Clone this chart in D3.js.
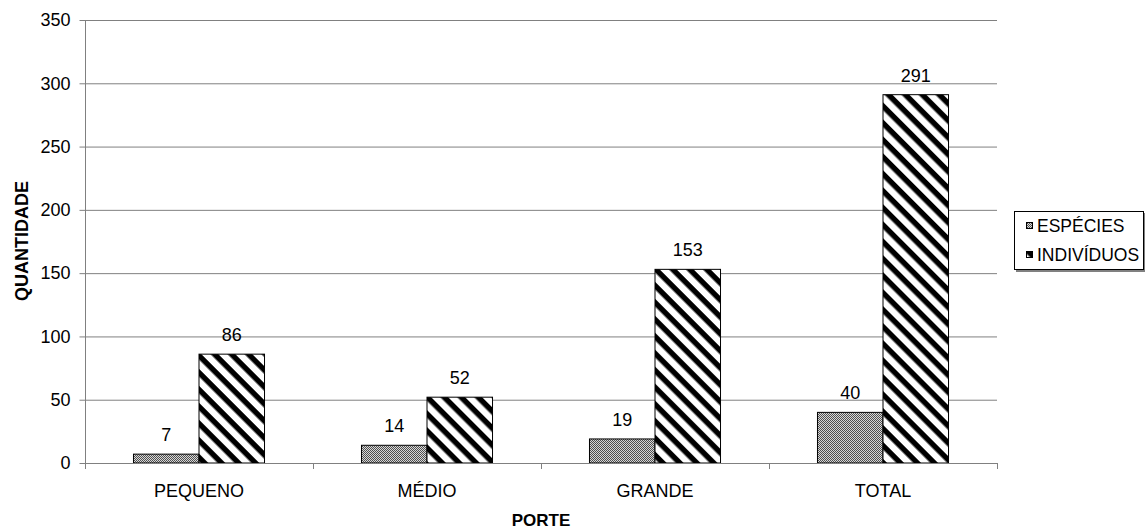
<!DOCTYPE html>
<html><head><meta charset="utf-8">
<script src="https://cdn.jsdelivr.net/npm/d3@7"></script>
<style>body{margin:0;background:#fff}svg{display:block;font-family:"Liberation Sans",Arial,sans-serif}</style>
</head><body><svg id="c" width="1145" height="530"></svg>
<script>
const categories = ["PEQUENO","MÉDIO","GRANDE","TOTAL"];
const seriesNames = ["ESPÉCIES","INDIVÍDUOS"];
const especies = [7,14,19,40];
const individuos = [86,52,153,291];
const yTicks = [0,50,100,150,200,250,300,350];

const FS = 18;
const svg = d3.select("#c");
const defs = svg.append("defs");
const p1 = defs.append("pattern").attr("id","pEsp").attr("patternUnits","userSpaceOnUse").attr("width",2).attr("height",2);
p1.append("rect").attr("width",2).attr("height",2).attr("fill","#d8d8d8");
p1.append("rect").attr("width",1).attr("height",1).attr("fill","#505050");
p1.append("rect").attr("x",1).attr("y",1).attr("width",1).attr("height",1).attr("fill","#505050");
const p2 = defs.append("pattern").attr("id","pInd").attr("patternUnits","userSpaceOnUse").attr("width",12).attr("height",12).attr("patternTransform","rotate(45)");
p2.append("rect").attr("width",12).attr("height",12).attr("fill","#fff");
p2.append("rect").attr("width",12).attr("height",5.5).attr("fill","#000");
const fills = ["url(#pEsp)","url(#pInd)"];

const L=85,R=997,T=20,B=463;
const x = d3.scaleBand().domain(categories).range([L,R]);
const xs = d3.scaleBand().domain(seriesNames).range([0,x.bandwidth()]).paddingOuter(0.74).paddingInner(0);
const y = d3.scaleLinear().domain([0,350]).range([B,T]);

// gridlines
svg.append("g").selectAll("line").data(yTicks.filter(d=>d>0)).join("line")
  .attr("x1",L).attr("x2",R).attr("y1",d=>y(d)+0.5).attr("y2",d=>y(d)+0.5)
  .attr("stroke","#808080").attr("stroke-width",1);

// bars
const data = [especies, individuos];
const g = svg.append("g");
seriesNames.forEach((s,si)=>{
  g.selectAll(null).data(categories).join("rect")
    .attr("x",c=>x(c)+xs(s)).attr("width",xs.bandwidth())
    .attr("y",(c,i)=>y(data[si][i])).attr("height",(c,i)=>B-y(data[si][i]))
    .attr("fill",fills[si]).attr("stroke","#000").attr("stroke-width",1);
  g.selectAll(null).data(categories).join("text")
    .attr("x",c=>x(c)+xs(s)+xs.bandwidth()/2).attr("y",(c,i)=>y(data[si][i])-13)
    .attr("text-anchor","middle").attr("font-size",FS).text((c,i)=>data[si][i]);
});

// y axis
const ya = svg.append("g").attr("transform",`translate(${L+0.5},0)`)
  .call(d3.axisLeft(y).tickValues(yTicks).tickSize(6).tickPadding(9));
ya.select(".domain").attr("stroke","#808080").attr("d",`M0,${T}V${B}`);
ya.selectAll(".tick line").attr("stroke","#808080");
ya.selectAll(".tick text").attr("font-size",FS).attr("font-family","Liberation Sans, Arial").attr("fill","#000");

// x axis
const xa = svg.append("g").attr("transform",`translate(0,${B+0.5})`)
  .call(d3.axisBottom(x).tickSize(0).tickPadding(21));
xa.select(".domain").attr("stroke","#808080").attr("d",`M${L},0H${R}`);
xa.selectAll(".tick text").attr("font-size",FS).attr("font-family","Liberation Sans, Arial").attr("fill","#000");
svg.append("g").selectAll("line").data(d3.range(categories.length+1)).join("line")
  .attr("x1",i=>L+i*x.step()+0.5).attr("x2",i=>L+i*x.step()+0.5)
  .attr("y1",B).attr("y2",B+6).attr("stroke","#808080");

// axis titles
svg.append("text").attr("x",541).attr("y",526).attr("text-anchor","middle")
  .attr("font-weight","bold").attr("font-size",17).text("PORTE");
svg.append("text").attr("transform","translate(28,241) rotate(-90)").attr("text-anchor","middle")
  .attr("font-weight","bold").attr("font-size",FS).text("QUANTIDADE");

// legend
const lg = svg.append("g");
lg.append("rect").attr("x",1016).attr("y",213).attr("width",129).attr("height",59).attr("fill","#808080");
lg.append("rect").attr("x",1014.5).attr("y",211.5).attr("width",129).attr("height",58).attr("fill","#fff").attr("stroke","#000");
seriesNames.forEach((s,i)=>{
  lg.append("rect").attr("x",1026.5).attr("y",222.5+i*29).attr("width",6).attr("height",6)
    .attr("fill",fills[i]).attr("stroke","#000");
  lg.append("text").attr("x",1037).attr("y",232+i*29).attr("font-size",17.5).text(s);
});
</script></body></html>
